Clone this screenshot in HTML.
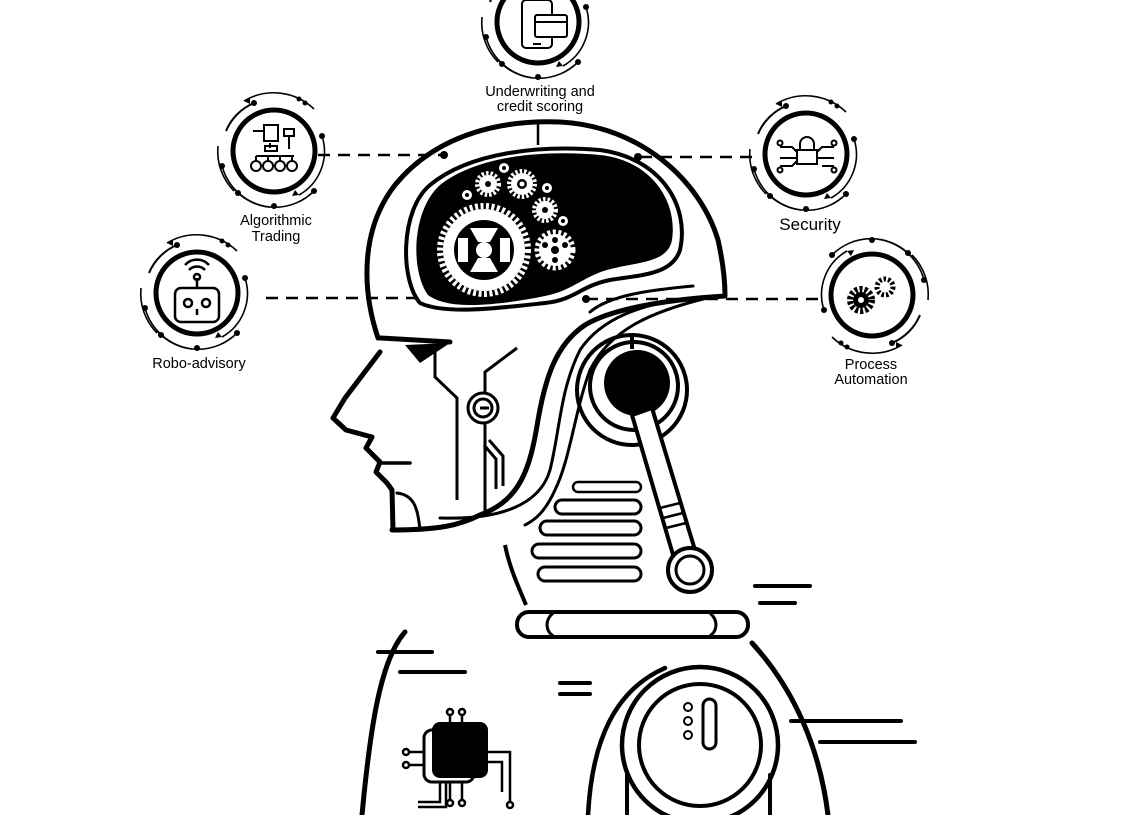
<!DOCTYPE html>
<html><head><meta charset="utf-8"><style>
html,body{margin:0;padding:0;background:#fff}
svg{display:block}
text{font-family:"Liberation Sans",Arial,sans-serif;fill:#000;text-anchor:middle}
</style></head><body>
<svg width="1140" height="815" viewBox="0 0 1140 815" xmlns="http://www.w3.org/2000/svg">
<defs>
<g id="ring">
<circle r="41" fill="none" stroke="#000" stroke-width="5"/>
<path d="M-48,-20 A52,52 0 0 1 -20,-48" fill="none" stroke="#000" stroke-width="2"/>
<path d="M-30,-50 A58,58 0 0 1 40,-42" fill="none" stroke="#000" stroke-width="1.6"/>
<path d="M48,-15 A50,50 0 0 1 25,44" fill="none" stroke="#000" stroke-width="1.6"/>
<path d="M-52,15 A56,56 0 0 0 -5,56" fill="none" stroke="#000" stroke-width="1.6"/>
<path d="M-40,38 A55,55 0 0 0 40,40" fill="none" stroke="#000" stroke-width="1.6"/>
<path d="M-56,-5 A56,56 0 0 0 -40,40" fill="none" stroke="#000" stroke-width="1.6"/>
<circle cx="-20" cy="-48" r="3"/><circle cx="48" cy="-15" r="3"/><circle cx="-52" cy="15" r="3"/>
<circle cx="-36" cy="42" r="3"/><circle cx="0" cy="55" r="3"/><circle cx="40" cy="40" r="3"/>
<circle cx="25" cy="-52" r="2.5"/><circle cx="31" cy="-48" r="2.5"/>
<path d="M-30,-50 l6,-3 l0,6z"/><path d="M25,44 l-7,1 l3,-6z"/>
</g>
</defs>

<g stroke="#000" stroke-width="2.5" stroke-dasharray="12,8" fill="none">
<line x1="318" y1="155" x2="444" y2="155"/>
<line x1="640" y1="157" x2="752" y2="157"/>
<line x1="266" y1="298" x2="415" y2="298"/>
<line x1="586" y1="299" x2="818" y2="299"/>
</g>
<circle cx="444" cy="155" r="4"/><circle cx="638" cy="157" r="4"/><circle cx="586" cy="299" r="4"/>
<line x1="538" y1="120" x2="538" y2="145" stroke="#000" stroke-width="2.5"/>

<use href="#ring" x="538" y="22"/>
<use href="#ring" x="274" y="151"/>
<use href="#ring" x="197" y="293"/>
<use href="#ring" x="806" y="154"/>
<use href="#ring" x="872" y="295" transform="rotate(180 872 295)"/>

<g fill="none" stroke="#000" stroke-width="2">
<rect x="522" y="0" width="30" height="48" rx="4"/>
<rect x="535" y="15" width="32" height="22" rx="2" fill="#fff"/>
<line x1="535" y1="22" x2="567" y2="22"/>
<line x1="533" y1="44" x2="541" y2="44"/>
</g>
<g fill="none" stroke="#000" stroke-width="2">
<rect x="264" y="125" width="14" height="16"/><rect x="284" y="129" width="10" height="7"/>
<path d="M253,131 h10 M289,137 v12 M270,143 v5 M256,156 h38 M256,156 v5 M268,156 v5 M280,156 v5 M292,156 v5"/>
<rect x="265" y="146" width="12" height="5"/>
<circle cx="256" cy="166" r="5"/><circle cx="268" cy="166" r="5"/><circle cx="280" cy="166" r="5"/><circle cx="292" cy="166" r="5"/>
</g>
<g fill="none" stroke="#000" stroke-width="2.5">
<rect x="175" y="288" width="44" height="34" rx="6"/>
<circle cx="188" cy="303" r="4"/><circle cx="206" cy="303" r="4"/>
<line x1="197" y1="278" x2="197" y2="288"/><circle cx="197" cy="277" r="3"/>
<path d="M189,270 a11,11 0 0 1 16,0 M185,265 a16,16 0 0 1 24,0"/>
<line x1="197" y1="309" x2="197" y2="315"/>
</g>
<g fill="none" stroke="#000" stroke-width="2">
<rect x="797" y="150" width="20" height="14"/><path d="M800,150 v-6 a7,7 0 0 1 14,0 v6"/>
<path d="M780,147 h12 l5,5 M780,158 h17 M780,166 h12 l5,-5 M834,147 h-12 l-5,5 M834,158 h-17 M834,166 h-12"/>
<circle cx="780" cy="143" r="2.5"/><circle cx="780" cy="170" r="2.5"/><circle cx="834" cy="143" r="2.5"/><circle cx="834" cy="170" r="2.5"/>
</g>
<circle cx="861" cy="300" r="11" fill="none" stroke="#000" stroke-width="6" stroke-dasharray="3,2"/>
<circle cx="861" cy="300" r="8"/><circle cx="861" cy="300" r="3" fill="#fff"/>
<circle cx="885" cy="287" r="8" fill="none" stroke="#000" stroke-width="5" stroke-dasharray="2.5,2"/>
<circle cx="885" cy="287" r="2.5" fill="#fff"/>

<g font-size="14.5">
<text x="540" y="96">Underwriting and</text>
<text x="540" y="111">credit scoring</text>
<text x="276" y="225">Algorithmic</text>
<text x="276" y="241">Trading</text>
<text x="199" y="368">Robo-advisory</text>
<text x="810" y="230" font-size="17">Security</text>
<text x="871" y="369">Process</text>
<text x="871" y="384">Automation</text>
</g>

<g fill="none" stroke="#000" stroke-width="5" stroke-linejoin="round" stroke-linecap="round">
<path d="M378,338 C362,290 360,230 395,185 C440,130 510,120 560,122 C640,126 700,180 718,240 C723,262 725,280 725,296 C660,300 610,310 585,325 C555,345 545,380 538,420 C530,470 520,500 480,515 C460,525 440,530 392,530"/>
<path d="M380,338 L450,342"/>
<path d="M420,303 C400,280 400,210 430,185 C470,152 540,145 600,150 C660,158 690,205 680,250 C672,275 640,275 610,280 C580,286 575,300 545,303 C500,308 445,315 420,303 Z" stroke-width="4"/>
<path d="M693,286 C650,290 610,295 590,312" stroke-width="3"/>
<path d="M699,298 C640,302 600,320 580,350 C560,390 560,430 550,470 C540,505 500,520 440,518" stroke-width="3"/>
<path d="M707,298 C650,312 610,330 590,370 C575,410 570,460 555,490 C545,512 535,520 525,525" stroke-width="3"/>
<path d="M380,352 L345,398 L333,418 L346,430 L372,437 L366,448 L380,462 L376,472 L387,483 L392,490 L393,530"/>
<path d="M380,463 L410,463" stroke-width="3.5"/>
<path d="M397,493 C415,495 418,510 420,530" stroke-width="3"/>
</g>
<path d="M428,295 C410,270 412,210 440,185 C478,155 545,150 600,155 C650,160 678,200 672,240 C668,262 640,262 615,268 C585,274 575,290 545,296 C505,304 450,312 428,295 Z"/>
<path d="M405,345 L450,343 L420,363 Z"/>
<g fill="#fff">
<circle cx="484" cy="250" r="44" fill="none" stroke="#fff" stroke-width="6" stroke-dasharray="3,2.5"/>
<circle cx="484" cy="250" r="41"/>
<circle cx="484" cy="250" r="30" fill="#000"/>
<circle cx="484" cy="250" r="8"/>
<path d="M470,228 h28 l-8,14 h-12z M470,272 h28 l-8,-14 h-12z M458,238 l10,0 l0,24 l-10,0z M510,238 l-10,0 l0,24 l10,0z" fill="#fff"/>
<circle cx="555" cy="250" r="18" fill="none" stroke="#fff" stroke-width="5" stroke-dasharray="3,2.5"/>
<circle cx="555" cy="250" r="16"/>
<circle cx="555" cy="250" r="4" fill="#000"/>
<circle cx="545" cy="245" r="3" fill="#000"/><circle cx="565" cy="245" r="3" fill="#000"/><circle cx="555" cy="260" r="3" fill="#000"/><circle cx="555" cy="240" r="3" fill="#000"/>
<circle cx="522" cy="184" r="13" fill="none" stroke="#fff" stroke-width="4" stroke-dasharray="2.5,2"/>
<circle cx="522" cy="184" r="11"/><circle cx="522" cy="184" r="5" fill="#000"/><circle cx="522" cy="184" r="2.5"/>
<circle cx="488" cy="184" r="11" fill="none" stroke="#fff" stroke-width="4" stroke-dasharray="2.5,2"/>
<circle cx="488" cy="184" r="9"/><circle cx="488" cy="184" r="3" fill="#000"/>
<circle cx="545" cy="210" r="11" fill="none" stroke="#fff" stroke-width="4" stroke-dasharray="2.5,2"/>
<circle cx="545" cy="210" r="9"/><circle cx="545" cy="210" r="3" fill="#000"/>
<circle cx="504" cy="168" r="5"/><circle cx="504" cy="168" r="2" fill="#000"/>
<circle cx="467" cy="195" r="5"/><circle cx="467" cy="195" r="2" fill="#000"/>
<circle cx="547" cy="188" r="5"/><circle cx="547" cy="188" r="2" fill="#000"/>
<circle cx="563" cy="221" r="5"/><circle cx="563" cy="221" r="2" fill="#000"/>
</g>

<g fill="none" stroke="#000" stroke-width="3">
<path d="M435,352 L435,377 L457,398 L457,500"/>
<path d="M517,348 L485,372 L485,515"/>
<circle cx="483" cy="408" r="15" fill="#fff"/><circle cx="483" cy="408" r="9"/>
<path d="M480,408 h9"/>
<path d="M484,445 l12,14 v30 M489,440 l14,16 v30"/>
</g>

<g fill="none" stroke="#000" stroke-width="4">
<circle cx="632" cy="390" r="55"/>
<circle cx="634" cy="386" r="44"/>
<path d="M632,335 v14"/>
</g>
<circle cx="637" cy="383" r="33"/>
<path d="M632,415 L676,565 L698,560 L652,408 Z" fill="#fff" stroke="#000" stroke-width="4"/>
<g stroke="#000" stroke-width="2.5"><line x1="660" y1="508" x2="680" y2="503"/><line x1="663" y1="518" x2="683" y2="513"/><line x1="666" y1="528" x2="686" y2="523"/></g>
<circle cx="690" cy="570" r="22" fill="#fff" stroke="#000" stroke-width="4"/>
<circle cx="690" cy="570" r="14" fill="none" stroke="#000" stroke-width="3"/>

<g fill="none" stroke="#000" stroke-width="3">
<rect x="573" y="482" width="68" height="10" rx="5" stroke-width="2.5"/>
<rect x="555" y="500" width="86" height="14" rx="7"/>
<rect x="540" y="521" width="101" height="14" rx="7"/>
<rect x="532" y="544" width="109" height="14" rx="7"/>
<rect x="538" y="567" width="103" height="14" rx="7"/>
<path d="M505,545 C510,570 520,590 526,605" stroke-width="4"/>
<rect x="517" y="612" width="231" height="25" rx="12" stroke-width="4"/>
<path d="M553,613 C545,620 545,630 553,636 M710,613 C718,620 718,630 710,636"/>
</g>

<g fill="none" stroke="#000" stroke-width="5" stroke-linecap="round">
<path d="M405,632 C380,660 370,730 362,815"/>
<path d="M752,643 C795,690 820,750 828,815"/>
<path d="M588,815 C592,740 615,690 665,668" stroke-width="4.5"/>
<circle cx="700" cy="745" r="78" stroke-width="4.5"/>
<path d="M560,683 h30 M560,694 h30" stroke-width="4"/>
<path d="M378,652 h54 M400,672 h65 M755,586 h55 M760,603 h35 M791,721 h110 M820,742 h95" stroke-width="4"/>
<circle cx="700" cy="745" r="61" stroke-width="4"/>
<path d="M627,775 v40 M770,775 v40" stroke-width="4"/>
<rect x="703" y="699" width="13" height="50" rx="6.5" stroke-width="3"/>
</g>
<g fill="none" stroke="#000" stroke-width="2">
<circle cx="688" cy="707" r="4"/><circle cx="688" cy="721" r="4"/><circle cx="688" cy="735" r="4"/>
</g>
<rect x="424" y="730" width="50" height="52" rx="8" fill="none" stroke="#000" stroke-width="3"/>
<rect x="432" y="722" width="56" height="56" rx="8"/>
<g fill="none" stroke="#000" stroke-width="2.5">
<path d="M450,722 v-8 M462,722 v-8 M424,752 h-16 M424,765 h-16 M488,752 h22 v50 M488,762 h14 v30 M440,782 v20 h-22 M446,782 v25 h-28 M450,782 v18 M462,782 v18"/>
<circle cx="450" cy="712" r="3"/><circle cx="462" cy="712" r="3"/><circle cx="406" cy="752" r="3"/><circle cx="406" cy="765" r="3"/>
<circle cx="450" cy="803" r="3"/><circle cx="462" cy="803" r="3"/><circle cx="510" cy="805" r="3"/>
</g>
</svg>
</body></html>
